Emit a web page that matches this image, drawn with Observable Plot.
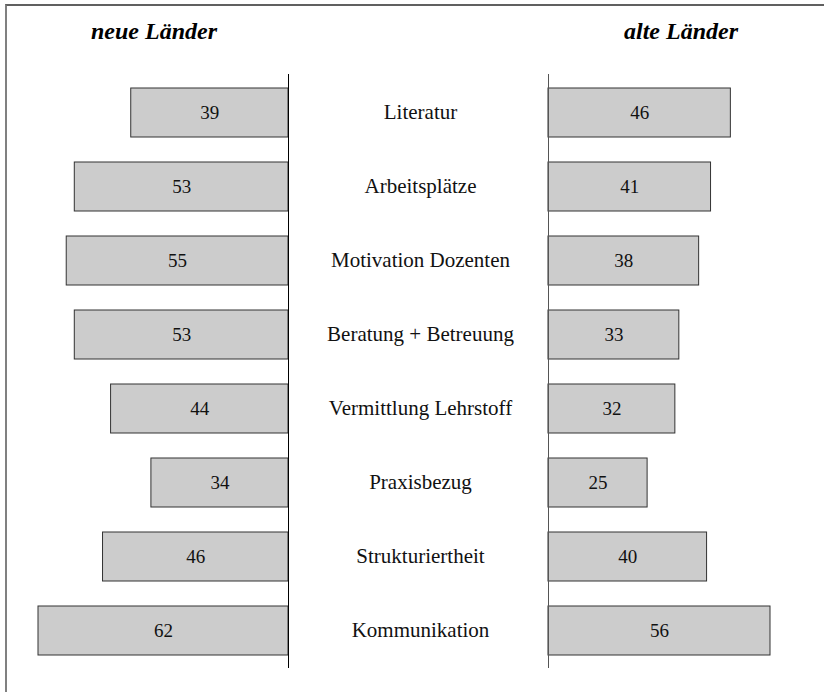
<!DOCTYPE html>
<html>
<head>
<meta charset="utf-8">
<script src="https://cdn.jsdelivr.net/npm/d3@7"></script>
<script src="https://cdn.jsdelivr.net/npm/@observablehq/plot@0.6"></script>
<style>
  html, body { margin: 0; padding: 0; background: #fff; }
  #wrap { position: relative; width: 824px; height: 692px; overflow: hidden; font-family: "Liberation Serif", "Times New Roman", serif; }
  #wrap svg { position: absolute; left: 0; top: 0; }
  .frame { position: absolute; left: 5px; top: 4px; width: 830px; height: 700px; border-left: 2px solid #808080; border-top: 2px solid #606060; }
  .hdr { position: absolute; top: 18px; font-size: 24px; line-height: normal; font-weight: bold; font-style: italic; color: #000; white-space: nowrap; }
</style>
</head>
<body>
<div id="wrap">
  <div class="frame"></div>
</div>
<script>
const categories = ["Literatur", "Arbeitsplätze", "Motivation Dozenten", "Beratung + Betreuung", "Vermittlung Lehrstoff", "Praxisbezug", "Strukturiertheit", "Kommunikation"];
const neueLaender = [39, 53, 55, 53, 44, 34, 46, 62];
const alteLaender = [46, 41, 38, 33, 32, 25, 40, 56];
const headers = ["neue Länder", "alte Länder"];

const W = 824, H = 692;
const yScale = {domain: categories, paddingInner: 0.34, paddingOuter: 0.17, align: 0.5};
const common = {width: W, height: H, marginTop: 74, marginBottom: 24, style: {background: "transparent", fontFamily: "'Liberation Serif', serif"}};

const left = neueLaender.map((v, i) => ({cat: categories[i], v}));
const right = alteLaender.map((v, i) => ({cat: categories[i], v}));

const wrap = document.getElementById("wrap");

const leftPlot = Plot.plot({
  ...common,
  marginLeft: 38, marginRight: W - 288,
  x: {domain: [0, 62], reverse: true, axis: null},
  y: {...yScale, axis: null},
  marks: [
    Plot.barX(left, {x1: 0, x2: "v", y: "cat", fill: "#cccccc", stroke: "#333", strokeWidth: 1}),
    Plot.ruleX([0], {stroke: "#000", strokeWidth: 1}),
    Plot.text(left, {x: d => d.v / 2, y: "cat", text: d => String(d.v), fontSize: 19, fill: "#111", fontFamily: "'Liberation Serif', serif"})
  ]
});

const rightPlot = Plot.plot({
  ...common,
  marginLeft: 548, marginRight: W - 770,
  x: {domain: [0, 56], axis: null},
  y: {...yScale, axis: null},
  marks: [
    Plot.barX(right, {x1: 0, x2: "v", y: "cat", fill: "#cccccc", stroke: "#333", strokeWidth: 1}),
    Plot.ruleX([0], {stroke: "#555", strokeWidth: 1}),
    Plot.text(right, {x: d => d.v / 2, y: "cat", text: d => String(d.v), fontSize: 19, fill: "#111", fontFamily: "'Liberation Serif', serif"})
  ]
});

const midPlot = Plot.plot({
  ...common,
  marginLeft: 292, marginRight: W - 548,
  y: {...yScale, axis: null},
  marks: [
    Plot.text(categories, {y: d => d, frameAnchor: "middle", text: d => d, fontSize: 21, fill: "#111", fontFamily: "'Liberation Serif', serif"})
  ]
});

wrap.appendChild(leftPlot);
wrap.appendChild(rightPlot);
wrap.appendChild(midPlot);

const h1 = document.createElement("div");
h1.className = "hdr"; h1.style.left = "91px"; h1.textContent = headers[0];
const h2 = document.createElement("div");
h2.className = "hdr"; h2.style.left = "624px"; h2.textContent = headers[1];
wrap.appendChild(h1); wrap.appendChild(h2);
</script>
</body>
</html>
